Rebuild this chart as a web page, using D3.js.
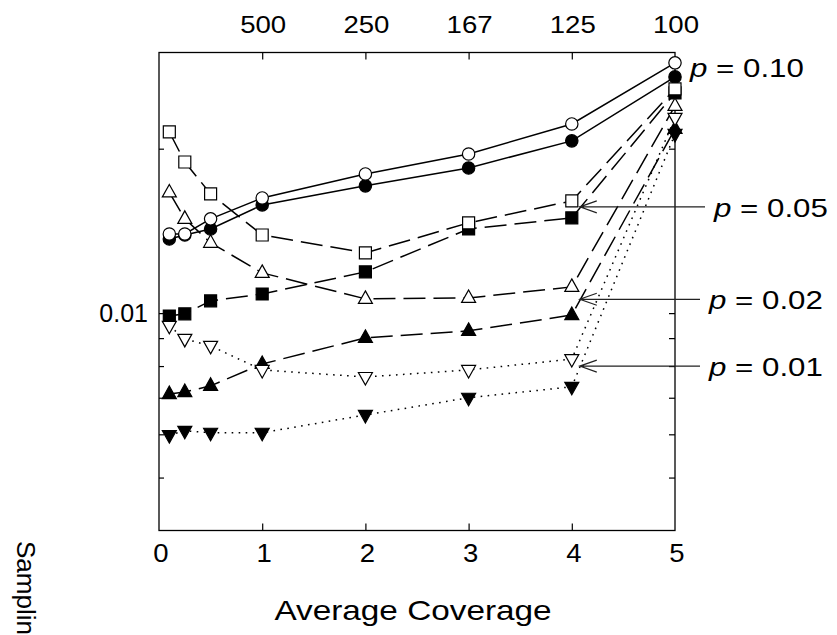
<!DOCTYPE html>
<html>
<head>
<meta charset="utf-8">
<script src="https://cdn.jsdelivr.net/npm/d3@7"></script>
<style>
  html, body { margin: 0; padding: 0; background: #fff; overflow: hidden; }
  svg { display: block; font-family: "Liberation Sans", Arial, sans-serif; }
</style>
</head>
<body>
<svg id="chart" width="837" height="635"></svg>
<script>
// Average coverage on the bottom axis, matching read depth on the top axis
const coverage = [0.1, 0.25, 0.5, 1, 2, 3, 4, 5];
const bottomTicks = [0, 1, 2, 3, 4, 5];
const topTicks = [1, 2, 3, 4, 5];
const topTickLabels = ["500", "250", "167", "125", "100"];
const yTicks = [0.005, 0.006, 0.007, 0.008, 0.009, 0.01, 0.02];
const yTickLabels = { 0.01: "0.01" };

// Sampling values per error rate p (open and filled marker sets)
const p10Open   = [0.01396, 0.01396, 0.01488, 0.01625, 0.01798, 0.01956, 0.0222, 0.02872];
const p10Filled = [0.01367, 0.0139, 0.01426, 0.01578, 0.0171, 0.01844, 0.02067, 0.02707];
const p05Open   = [0.02146, 0.01891, 0.01653, 0.0139, 0.01289, 0.01463, 0.01605, 0.02573];
const p05Filled = [0.00988, 0.00997, 0.01053, 0.01084, 0.0119, 0.01426, 0.01494, 0.0253];
const p02Open   = [0.01663, 0.01488, 0.01345, 0.01185, 0.01062, 0.01066, 0.01117, 0.02395];
const p02Filled = [0.00711, 0.00717, 0.00736, 0.00807, 0.00901, 0.00928, 0.00992, 0.02174];
const p01Open   = [0.00948, 0.00897, 0.00871, 0.00787, 0.00764, 0.00787, 0.00824, 0.02277];
const p01Filled = [0.00598, 0.00609, 0.00604, 0.00604, 0.00651, 0.007, 0.00733, 0.02128];

// Callout labels and the level their arrows point at (x = 4)
const calloutLabels = ["0.05", "0.02", "0.01"];
const calloutLevels = [0.01565, 0.0106, 0.0080];

const svg = d3.select("#chart");
const plot = { left: 159, right: 675, top: 52.5, bottom: 530.5 };

const x = d3.scaleLinear().domain([0, 5]).range([plot.left, plot.right]);
const y = d3.scaleLog().domain([0.004, 0.03]).range([plot.bottom, plot.top]);

const series = [
  { values: p10Filled, shape: "circle",  filled: true,  dash: null },
  { values: p05Filled, shape: "square",  filled: true,  dash: "22,8" },
  { values: p02Filled, shape: "triUp",   filled: true,  dash: "22,8" },
  { values: p01Filled, shape: "triDown", filled: true,  dash: "1.6,5.4" },
  { values: p10Open,   shape: "circle",  filled: false, dash: null },
  { values: p05Open,   shape: "square",  filled: false, dash: "22,8" },
  { values: p02Open,   shape: "triUp",   filled: false, dash: "22,8" },
  { values: p01Open,   shape: "triDown", filled: false, dash: "1.6,5.4" }
];

// Frame
const frame = svg.append("g").attr("stroke", "#000").attr("stroke-width", 1.3).attr("fill", "none");
frame.append("rect")
  .attr("x", plot.left).attr("y", plot.top)
  .attr("width", plot.right - plot.left).attr("height", plot.bottom - plot.top);

// Axes with inward ticks
const tickLen = 7;
svg.append("g")
  .attr("transform", `translate(0,${plot.bottom})`)
  .call(d3.axisBottom(x).tickValues(bottomTicks.slice(1, -1)).tickSizeInner(-tickLen).tickSizeOuter(0).tickFormat(""))
  .call(g => g.select(".domain").remove())
  .call(g => g.selectAll("line").attr("stroke-width", 1.2));
svg.append("g")
  .attr("transform", `translate(0,${plot.top})`)
  .call(d3.axisTop(x).tickValues(topTicks.slice(0, -1)).tickSizeInner(-tickLen).tickSizeOuter(0).tickFormat(""))
  .call(g => g.select(".domain").remove())
  .call(g => g.selectAll("line").attr("stroke-width", 1.2));
svg.append("g")
  .attr("transform", `translate(${plot.left},0)`)
  .call(d3.axisLeft(y).tickValues(yTicks).tickSizeInner(-5).tickSizeOuter(0).tickFormat(""))
  .call(g => g.select(".domain").remove())
  .call(g => g.selectAll("line").attr("stroke-width", 1.2));
svg.append("g")
  .attr("transform", `translate(${plot.right},0)`)
  .call(d3.axisRight(y).tickValues(yTicks).tickSizeInner(-6).tickSizeOuter(0).tickFormat(""))
  .call(g => g.select(".domain").remove())
  .call(g => g.selectAll("line").attr("stroke-width", 1.2));

// Text helper: horizontally widened glyphs
function label(g, text, tx, ty, size, sx, anchor) {
  return g.append("text")
    .attr("transform", `translate(${tx},${ty}) scale(${sx},1)`)
    .attr("text-anchor", anchor || "middle")
    .attr("font-size", size)
    .attr("fill", "#000")
    .text(text);
}

const texts = svg.append("g");
bottomTicks.forEach(v => label(texts, String(v), x(v) + 2, 562, 25, 1.1));
topTicks.forEach((v, i) => label(texts, topTickLabels[i], x(v) + 1, 33, 23, 1.2));
yTicks.filter(v => yTickLabels[v]).forEach(v => label(texts, yTickLabels[v], 148, y(v) + 9, 25, 1.0, "end"));

label(texts, "Average Coverage", 413, 620, 28, 1.19);
texts.append("text")
  .attr("transform", "translate(17,541) rotate(90)")
  .attr("font-size", 26)
  .text("Sampling Variance");

// Lines
const line = d3.line().x((d, i) => x(coverage[i])).y(d => y(d));
svg.append("g").selectAll("path").data(series).join("path")
  .attr("d", s => line(s.values))
  .attr("fill", "none")
  .attr("stroke", "#000")
  .attr("stroke-width", 1.5)
  .attr("stroke-dasharray", s => s.dash);

// Markers
function markerPath(shape) {
  if (shape === "circle") return d3.symbol(d3.symbolCircle, 120)();
  if (shape === "square") return "M-6,-6H6V6H-6Z";
  if (shape === "triUp") return "M0,-8L7,4.5L-7,4.5Z";
  return "M0,8L7,-4.5L-7,-4.5Z";
}
const markers = svg.append("g");
series.forEach(s => {
  markers.append("g").selectAll("path").data(s.values).join("path")
    .attr("transform", (d, i) => `translate(${x(coverage[i])},${y(d)})`)
    .attr("d", markerPath(s.shape))
    .attr("fill", s.filled ? "#000" : "#fff")
    .attr("stroke", "#000")
    .attr("stroke-width", 1.2);
});

// Error-rate callouts
const callouts = svg.append("g");
const p10 = callouts.append("text")
  .attr("transform", `translate(690,77) scale(1.18,1)`)
  .attr("font-size", 26.5);
p10.append("tspan").attr("font-style", "italic").text("p");
p10.append("tspan").text(" = 0.10");

calloutLabels.forEach((t, i) => {
  const ty = y(calloutLevels[i]);
  const tipX = x(4) + 8;
  const endX = i === 0 ? 705 : 700;
  callouts.append("path")
    .attr("d", `M${endX},${ty}H${tipX}M${tipX + 17},${ty - 6}L${tipX},${ty}L${tipX + 17},${ty + 6}`)
    .attr("fill", "none")
    .attr("stroke", "#222")
    .attr("stroke-width", 1.2);
  const tx = i === 0 ? 714 : 709;
  const tt = callouts.append("text")
    .attr("transform", `translate(${tx},${ty + 10}) scale(1.18,1)`)
    .attr("font-size", 26.5);
  tt.append("tspan").attr("font-style", "italic").text("p");
  tt.append("tspan").text(" = " + t);
});
</script>
</body>
</html>
